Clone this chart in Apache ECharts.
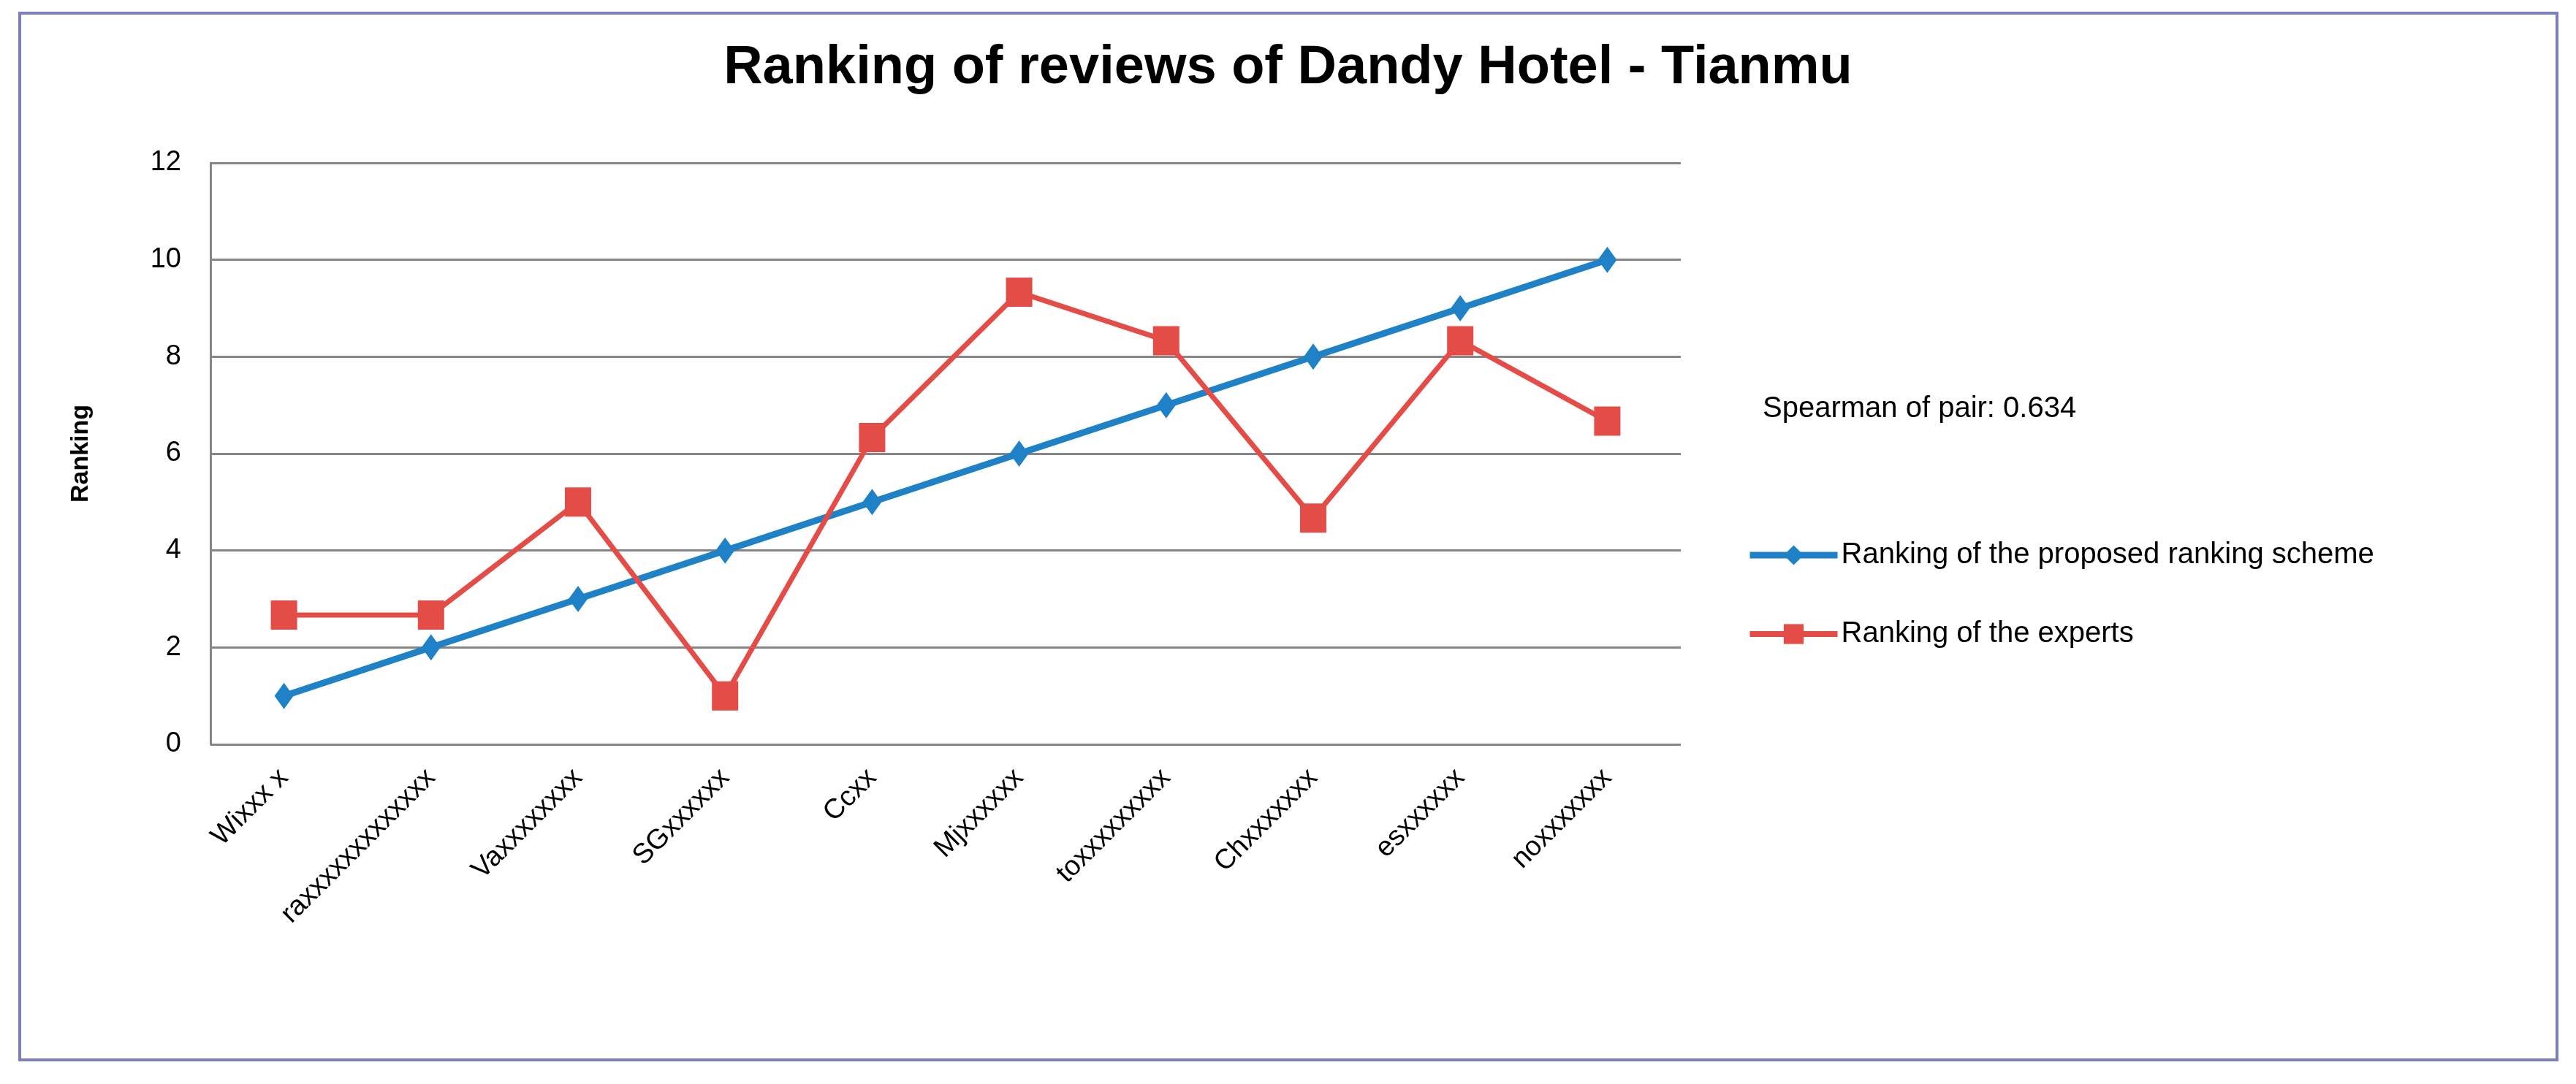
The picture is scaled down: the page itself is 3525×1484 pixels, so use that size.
<!DOCTYPE html>
<html>
<head>
<meta charset="utf-8">
<script src="https://cdn.jsdelivr.net/npm/echarts@6/dist/echarts.min.js"></script>
<style>
  html, body { margin: 0; padding: 0; background: #fff; }
  #chart { width: 3525px; height: 1484px; }
</style>
</head>
<body>
<div id="chart"></div>
<script>
var categories = ['Wixxx x', 'raxxxxxxxxxxxxx', 'Vaxxxxxxxx', 'SGxxxxxx', 'Ccxx', 'Mjxxxxxx', 'toxxxxxxxxx', 'Chxxxxxxx', 'esxxxxxx', 'noxxxxxxx']
var proposed = [1, 2, 3, 4, 5, 6, 7, 8, 9, 10]
var experts = [2.67, 2.67, 5, 1, 6.33, 9.33, 8.33, 4.67, 8.33, 6.67]
var yTicks = { min: 0, max: 12, interval: 2 }

var font = '"Liberation Sans", Arial, sans-serif'
var chart = echarts.init(document.getElementById('chart'))

var option = {
    backgroundColor: '#fff',
    textStyle: { fontFamily: font },
    title: {
        text: 'Ranking of reviews of Dandy Hotel - Tianmu',
        left: 'center',
        top: 52,
        textStyle: { fontSize: 74, fontWeight: 'bold', color: '#000', fontFamily: font }
    },
    graphic: [
        {
            type: 'rect',
            shape: { x: 27, y: 18, width: 3472, height: 1433 },
            style: { fill: 'none', stroke: '#7a7fc4', lineWidth: 4 }
        },
        {
            type: 'text',
            left: 2412,
            top: 540,
            style: { text: 'Spearman of pair: 0.634', fontSize: 40, fill: '#000', fontFamily: font }
        }
    ],
    legend: {
        orient: 'vertical',
        left: 2385,
        top: 735,
        itemGap: 68,
        itemWidth: 120,
        itemHeight: 34,
        textStyle: { fontSize: 40, color: '#000', fontFamily: font },
        data: [
            { name: 'Ranking of the proposed ranking scheme', lineStyle: { width: 9 } },
            { name: 'Ranking of the experts', lineStyle: { width: 8 } }
        ]
    },
    grid: { left: 288, right: 1225, top: 223, bottom: 465 },
    xAxis: {
        type: 'category',
        data: categories,
        boundaryGap: true,
        axisLine: { show: false },
        axisTick: { show: false },
        axisLabel: { rotate: 45, fontSize: 38, color: '#000', margin: 40, fontFamily: font }
    },
    yAxis: {
        type: 'value',
        min: yTicks.min,
        max: yTicks.max,
        interval: yTicks.interval,
        name: 'Ranking',
        nameLocation: 'middle',
        nameGap: 160,
        nameTextStyle: { fontSize: 34, fontWeight: 'bold', color: '#000', fontFamily: font },
        axisLine: { show: true, lineStyle: { color: '#868686', width: 3 } },
        axisTick: { show: false },
        axisLabel: { fontSize: 38, color: '#000', margin: 40, fontFamily: font },
        splitLine: { lineStyle: { color: '#868686', width: 3 } }
    },
    series: [
        {
            name: 'Ranking of the proposed ranking scheme',
            type: 'line',
            data: proposed,
            symbol: 'diamond',
            symbolSize: [26, 36],
            itemStyle: { color: '#1f82c6' },
            lineStyle: { color: '#1f82c6', width: 9 },
            z: 2
        },
        {
            name: 'Ranking of the experts',
            type: 'line',
            data: experts,
            symbol: 'rect',
            symbolSize: [36, 40],
            itemStyle: { color: '#e34c47' },
            lineStyle: { color: '#e34c47', width: 7 },
            z: 3
        }
    ]
}
chart.setOption(option)
</script>
</body>
</html>
